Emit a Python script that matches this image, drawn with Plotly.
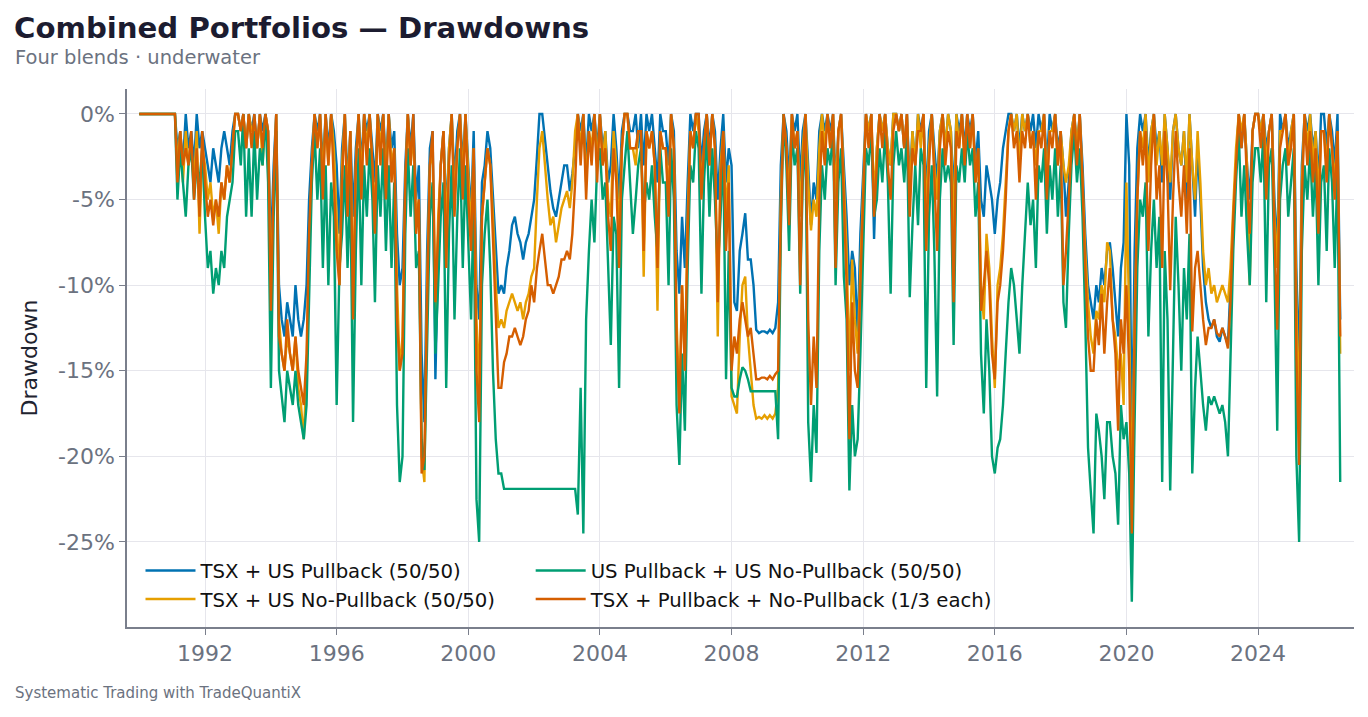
import pandas as pd
import plotly.graph_objects as go

# monthly drawdowns in percent, Jan 1990 .. Jul 2026 (one row per year)
dates = pd.date_range("1990-01-01", periods=439, freq="MS")

tsx_pullback = [
    0, 0, 0, 0, 0, 0, 0, 0, 0, 0, 0, 0,
    0, 0, -2, -1, -3, 0, -2, -1, -3, 0, -2, -1,
    -2, -3, -4, -2, -3, -4, -2, -1, -2, -3, -1, 0,
    0, -1, 0, -2, 0, -1, 0, -2, 0, -1, 0, -1,
    -8, -3, 0, -10, -12, -13, -11, -12, -13, -10, -12, -13,
    -12, -10, -5, -2, 0, -1, 0, -3, 0, -2, 0, -1,
    -3, -7, -2, 0, -4, -1, -6, -2, 0, -3, 0, -1,
    0, -2, -4, 0, -1, 0, -3, 0, -2, -1, -7, -10,
    -9, -3, 0, -2, 0, -5, -3, -14, -18, -8, -2, -1,
    -15.5, -8, -3, -1, -6, -2, 0, -4, -1, 0, -3, 0,
    -3, -6, -1, -10, -12, -4, -3, -1, -2, -5, -8, -10.5,
    -10, -10.5, -9, -8, -6.5, -6, -7, -7.5, -8.5, -7.5, -7, -6,
    -5, -2.5, 0, 0, -1.5, -3, -4.5, -5.5, -6, -5, -4, -3,
    -3, -4.5, -3.5, -2, 0, -1, 0, -3, 0, -1, 0, -2,
    0, -2, -1, -4, -3, 0, -2, -5, -1, 0, 0, -1,
    -1, 0, -2, 0, -3, 0, -1, 0, -2, -4, 0, -1,
    -1, -3, 0, -1, -8, -10.5, -6, -9, -4, 0, -1, 0,
    0, -3, -1, 0, -2, 0, -1, -5, -2, 0, -4, -2,
    -3, -11, -11.5, -8, -7, -5.8, -8.5, -8.5, -10, -12.6, -12.8, -12.7,
    -12.7, -12.8, -12.6, -12.8, -12.5, -11, -3, 0, -1, -4, 0, -1,
    0, -4, -1, 0, -3, -6.5, -4, -5, -1, 0, -1, 0,
    -1, 0, -4, -1, 0, -3, -6, -10, -8, -9, -13, -7,
    -3, 0, -1, 0, -7.3, -2, 0, -1, 0, -2, -3, 0,
    0, -1, 0, -2, 0, -4, -1, -3, 0, -1, 0, -5,
    -1, 0, -2, -4, -1, 0, -2, 0, -1, -5, 0, -1,
    0, -2, 0, -1, 0, -3, -1, -5, -6, -3, -4, -5,
    -7, -5, -4, -2, -1, 0, 0, -1, 0, -2, 0, -1,
    0, -1, 0, -2, 0, -1, 0, -3, 0, -1, 0, -2,
    -1, -3, -6, -4, -1, 0, -2, 0, -3, -7, -10, -11,
    -12, -10, -11, -9, -10, -8, -7.5, -9, -11, -13, -9, -7.5,
    0, -3, -20, -8, -2, 0, -1, 0, -3, -1, 0, -2,
    -1, -4, 0, -2, -5, -1, 0, -2, -3, -1, -5, 0,
    -3, -6, -2, -5, -9, -11, -12, -12.5, -12, -13, -13.3, -12.5,
    -13, -13.5, -10, -6, -3, 0, -2, 0, -3, -5, -1, 0,
    0, -1, 0, -2, -1, 0, -5, -8, 0, -1, 0, -2,
    -1, 0, -9, -15, -3, 0, -1, 0, -2, -1, -4, 0,
    0, -2, 0, -1, -3, 0, -12,
]

tsx_nopullback = [
    0, 0, 0, 0, 0, 0, 0, 0, 0, 0, 0, 0,
    0, 0, -3, -1, -4, -1, -3, -2, -4, -1, -7, -2,
    -3, -5, -4, -6, -5, -7, -4, -5, -3, -4, -2, 0,
    0, -1, 0, -2, 0, -1, -1, -2, 0, -3, 0, -1,
    -10, -4, 0, -12, -14, -15, -13, -14, -15, -13, -16, -17,
    -19, -15, -8, -3, 0, -2, 0, -4, 0, -3, 0, -2,
    -6, -10, -3, 0, -5, -1, -11, -3, 0, -4, 0, -2,
    0, -3, -6, 0, -2, 0, -4, 0, -3, -2, -10, -15,
    -13, -4, 0, -3, -1, -6, -5, -20, -21.5, -10, -3, -2,
    -12, -6, -3, -1, -7, -2, 0, -5, -2, 0, -4, 0,
    -4, -7, -2, -12, -16, -6, -4, -2, -3, -6, -10, -12.5,
    -12, -12.5, -11.5, -11, -10.5, -11, -11.5, -11, -12, -11, -10.5, -9.5,
    -9, -5, -2, -1, -3, -5, -6.5, -6, -7.5, -6.5, -5.5, -5,
    -4.5, -5.5, -4, -1, 0, -2, 0, -4, -1, -2, 0, -3,
    0, -3, -1, -5, -6, -1, -3, -7, -2, 0, 0, -2,
    -2, -3, -1, -1, -9.5, -1, -2, -1, -3, -11.5, -1, -2,
    -2, -5, 0, -2, -12, -17, -10, -15, -6, -1, -2, 0,
    -1, -4, -2, 0, -3, 0, -2, -13, -3, -1, -6, -3,
    -16.5, -17, -17.5, -13, -10, -9.5, -13, -15, -17, -17.8, -17.7, -17.8,
    -17.6, -17.8, -17.6, -17.8, -17.5, -16, -5, 0, -2, -5, 0, -2,
    -1, -6, -2, 0, -4, -6.8, -5, -6, -2, 0, -2, 0,
    -2, 0, -5, -1, 0, -4, -8, -15, -8.5, -12, -14, -9,
    -4, 0, -1, 0, -5, -2, 0, -1, 0, -2, -3, 0,
    0, -1, 0, -2, 0, -5, -1, -3, 0, -2, 0, -6,
    -2, 0, -3, -5, -1, 0, -2, 0, -1, -7, 0, -2,
    0, -3, 0, -2, 0, -4, -2, -10, -12, -7, -9, -13,
    -16, -10, -9, -7, -4, -1, 0, -1, 0, -3, 0, -1,
    0, -2, -1, -3, -1, -1, 0, -4, -1, -1, 0, -3,
    -1, -3, -4, -3, -1, 0, -2, 0, -4, -8, -11, -13,
    -14, -11.5, -12, -10, -11, -7.5, -8, -12, -13, -15, -14, -17,
    -4, -12, -23, -12, -5, -1, -2, 0, -4, -1, 0, -3,
    -1, -3, 0, -2, -4, -1, 0, -2, -3, -1, -4, 0,
    -3, -5, -1, -4, -8, -10, -9, -10.5, -10, -11, -10.5, -10,
    -10.5, -11, -9, -5, -2, 0, -1, 0, -3, -10, -1, 0,
    0, -1, 0, -3, -1, 0, -6, -9, -1, -1, 0, -3,
    -1, 0, -11, -18, -4, 0, -2, 0, -3, -1, -5, -1,
    -1, -3, 0, -2, -4, -1, -14,
]

us_blend = [
    0, 0, 0, 0, 0, 0, 0, 0, 0, 0, 0, 0,
    0, 0, -5, -2, -4, -6, -3, -2, -5, -3, -4, -2,
    -6, -9, -8, -10.5, -9, -10, -8, -9, -6, -5, -4, -1,
    -1, -3, 0, -6, -2, -6, -1, -5, -2, -3, 0, -4,
    -16, -6, -1, -15, -16.5, -18, -15, -16, -17, -15, -17, -18,
    -19, -17, -10, -4, -1, -5, -2, -9, -3, -10, -4, -6,
    -17, -9, -7, -3, -9, -4, -18, -8, -2, -10, -3, -6,
    -2, -5, -11, -3, -6, -2, -8, -3, -9, -4, -17, -21.5,
    -20, -7, -2, -6, -3, -9, -8, -19, -20.8, -14, -6, -4,
    -14, -10, -6, -4, -16, -7, -3, -12, -6, -2, -9, -3,
    -8, -12, -5, -22.5, -25, -10, -7, -5, -9, -15, -19, -21,
    -21, -21.9, -21.9, -21.9, -21.9, -21.9, -21.9, -21.9, -21.9, -21.9, -21.9, -21.9,
    -21.9, -21.9, -21.9, -21.9, -21.9, -21.9, -21.9, -21.9, -21.9, -21.9, -21.9, -21.9,
    -21.9, -21.9, -21.9, -21.9, -23.4, -16, -24.5, -12, -8, -5, -7.5, -3,
    -2, -5, -4, -9, -13.5, -6, -7, -16, -5, -3, -1, -4,
    -7, -5, -3, -2, -6, -4, -5, -3, -6, -8, -2, -4,
    -4, -10, -2, -5, -17, -20.5, -14, -18.5, -9, -3, -4, -1,
    -2, -10.5, -4, -1, -6, -2, -5, -9, -6, -2, -15.5, -8,
    -16, -16.5, -16.5, -15.5, -14.8, -15, -15.5, -16.2, -16.2, -16.2, -16.2, -16.2,
    -16.2, -16.2, -16.2, -16.2, -16.2, -19, -7, 0, -3, -8, -1, -3,
    -2, -10.5, -4, -1, -18, -21.5, -17, -19.8, -8, -3, -5, -2,
    -3, -1, -10, -4, -2, -9.5, -12, -22, -17, -20, -19, -14,
    -8, -2, -3, -1, -6, -5, -2, -4, -1, -4, -10.5, -3,
    -1, -3, -2, -4, -1, -10.7, -6.5, -3, -6.5, -2, -3, -16,
    -6, -3, -8, -16.5, -5, -2, -4, -3, -4, -13.5, -3, -4,
    -2, -4, -1, -3, -2, -6, -4, -14, -17.5, -12, -15, -20,
    -21, -19.5, -19, -17, -14, -11, -9, -10, -12, -14, -10, -7,
    -4, -6.5, -5, -9, -3, -4, -2, -7, -3, -5, -2, -6,
    -3, -11, -12.5, -7, -3, -1, -4, -2, -6, -12, -19.5, -22,
    -24.5, -17.5, -18.5, -20, -22.5, -18, -18, -20, -21, -24, -17, -19,
    -18, -21, -28.5, -18, -9, -5, -6, -4, -13, -8, -5, -9,
    -6, -21.5, -8, -12, -22, -14, -6, -10, -15, -9, -12, -7,
    -21, -16, -13, -15, -17, -18.5, -16.5, -17, -16.5, -17, -17.5, -17,
    -18, -20, -14, -8, -4, -1, -6, -3, -7, -10, -4, -2,
    -2, -4, -1, -11, -3, -2, -9, -18.5, -5, -3, -2, -6,
    -4, -2, -20, -25, -8, -3, -5, -2, -6, -3, -10, -4,
    -3, -8, -2, -4, -9, -3, -21.5,
]

three_way = [
    0, 0, 0, 0, 0, 0, 0, 0, 0, 0, 0, 0,
    0, 0, -4, -1, -3, -2, -3, -1, -5, -2, -6, -1,
    -4, -6, -5, -6.5, -5, -6, -4, -5, -3, -4, -2, 0,
    0, -1, 0, -2, 0, -2, 0, -2, 0, -2, 0, -1,
    -11.5, -4, 0, -13, -14, -15, -12, -14, -15, -13, -15, -16,
    -17, -14, -7, -3, 0, -2, 0, -5, 0, -3, 0, -4,
    -8, -10, -4, 0, -6, -1, -12, -3, 0, -5, 0, -3,
    0, -3, -7, 0, -3, 0, -5, 0, -4, -2, -12, -15,
    -14, -4, 0, -3, 0, -7, -5, -21, -20, -11, -3, -1,
    -11, -7, -3, -1, -9, -3, 0, -6, -2, 0, -5, 0,
    -5, -8, -2, -15, -18, -6, -4, -2, -3, -7, -12, -16,
    -16, -14.5, -14, -13, -13, -12.5, -13, -13.5, -13, -12, -11.5, -10,
    -11, -9, -8, -7, -8.5, -10, -10, -10.5, -10, -9.5, -8.5, -8.5,
    -8, -8.5, -7, -4, 0, -3, 0, -5, -1, -3, 0, -4,
    0, -3, -2, -6, -8, -2, -4, -9, -2, 0, 0, -2,
    -2, -2, -1, -1, -8, -1, -2, -1, -3, -9, -1, -2,
    -2, -6, 0, -2, -13, -17.5, -10, -15, -7, -1, -2, 0,
    0, -5, -2, 0, -3, 0, -2, -11, -4, -1, -8, -4,
    -15, -13, -14, -12, -11, -12, -13, -12.5, -14, -15.5, -15.5, -15.4,
    -15.4, -15.5, -15.3, -15.5, -15.2, -15, -6, 0, -2, -6.5, 0, -2,
    -1, -10, -3, 0, -12, -17, -13, -16, -5, -1, -3, 0,
    -2, 0, -9, -1, 0, -5, -10, -19, -11, -15, -16, -10,
    -5, 0, -2, 0, -6, -3, 0, -2, 0, -3, -5, -1,
    0, -1, 0, -2, 0, -6, -2, -3, -1, -1, 0, -8,
    -3, 0, -4, -8, -2, 0, -3, -1, -2, -11, -1, -2,
    0, -3, 0, -2, 0, -4, -2, -11.5, -10, -8, -10, -14,
    -15.5, -11, -10, -8, -5, -1, 0, -2, -1, -4, -1, -2,
    0, -2, -1, -5, -1, -2, 0, -5, -1, -2, 0, -3,
    -1, -10, -8, -5, -2, 0, -3, 0, -4, -9, -13, -15,
    -15, -12, -13.5, -10.5, -14, -11, -9, -12, -14, -18.5, -12, -14,
    -10, -15, -24.5, -13, -5, -1, -3, -1, -8, -3, 0, -5,
    -3, -9, -1, -4, -10.3, -5, -1, -4, -6, -3, -7, -2,
    -12.7, -9, -8, -10, -12, -13.5, -12.5, -12.5, -12, -12.8, -13, -12.5,
    -13, -13.7, -11, -6, -3, 0, -2, 0, -4, -7, -1, 0,
    0, -2, 0, -5, -1, 0, -7, -12.6, -2, -1, 0, -3,
    -2, 0, -14, -20.5, -5, 0, -3, -1, -4, -2, -7, -1,
    -1, -4, 0, -2, -5, -1, -13,
]

series_names = [
    "TSX + US Pullback (50/50)",
    "TSX + US No-Pullback (50/50)",
    "US Pullback + US No-Pullback (50/50)",
    "TSX + Pullback + No-Pullback (1/3 each)",
]
series_values = [tsx_pullback, tsx_nopullback, us_blend, three_way]
series_colors = ["#0072B2", "#E69F00", "#009E73", "#D55E00"]
series_legend = ["legend", "legend", "legend2", "legend2"]

y_ticks = [0, -5, -10, -15, -20, -25]
y_tick_text = ["0%", "-5%", "-10%", "-15%", "-20%", "-25%"]

for vals in series_values:
    assert len(vals) == len(dates), len(vals)

FONT = "DejaVu Sans"
GREY = "#6b7280"
GRID = "#e6e6ec"

fig = go.Figure()
for name, vals, col, leg in zip(series_names, series_values, series_colors, series_legend):
    fig.add_trace(go.Scatter(
        x=dates, y=vals, name=name, mode="lines",
        line=dict(color=col, width=2.4),
        legend=leg,
    ))

legend_style = dict(
    xanchor="left", yanchor="top",
    bgcolor="rgba(255,255,255,0)", borderwidth=0,
    font=dict(family=FONT, size=19.7, color="#111111"),
    itemwidth=50,
)

fig.update_layout(
    width=1368, height=717,
    margin=dict(l=127, r=14, t=89, b=90),
    paper_bgcolor="white", plot_bgcolor="white",
    font=dict(family=FONT, color=GREY),
    title=dict(
        text="<b>Combined Portfolios — Drawdowns</b>",
        font=dict(family=FONT, size=29.2, color="#1c1c30"),
        xref="container", x=14 / 1368, xanchor="left",
        yref="container", y=1 - 28 / 717, yanchor="middle",
    ),
    legend=dict(x=0.011, y=0.141, **legend_style),
    legend2=dict(x=0.329, y=0.141, **legend_style),
    xaxis=dict(
        type="date",
        range=["1989-08-18", "2026-12-01"],
        tick0="1992-01-01", dtick="M48", tickformat="%Y",
        showgrid=True, gridcolor=GRID, gridwidth=1.3,
        showline=True, linecolor="#7a7f8c", linewidth=1.5,
        ticks="outside", ticklen=6, tickcolor="#7a7f8c",
        tickfont=dict(family=FONT, size=22, color=GREY),
        zeroline=False,
    ),
    yaxis=dict(
        range=[-29.97, 1.46],
        tickvals=y_ticks, ticktext=y_tick_text,
        showgrid=True, gridcolor=GRID, gridwidth=1.3,
        showline=True, linecolor="#7a7f8c", linewidth=1.5,
        ticks="outside", ticklen=6, tickcolor="#7a7f8c",
        tickfont=dict(family=FONT, size=22, color=GREY),
        title=dict(text="Drawdown", font=dict(family=FONT, size=22, color="#1f2430"), standoff=14),
        zeroline=False,
    ),
)

fig.add_annotation(
    text="Four blends · underwater", xref="paper", yref="paper",
    x=(13 - 127) / 1227, y=(627 - 57) / 538, xanchor="left", yanchor="middle",
    showarrow=False, font=dict(family=FONT, size=19.5, color=GREY),
)
fig.add_annotation(
    text="Systematic Trading with TradeQuantiX", xref="paper", yref="paper",
    x=(13 - 127) / 1227, y=(627 - 693) / 538, xanchor="left", yanchor="middle",
    showarrow=False, font=dict(family=FONT, size=15, color=GREY),
)

fig.write_html(
    "out.html",
    config={"displayModeBar": False},
    post_script="document.body.style.margin='0';",
)
